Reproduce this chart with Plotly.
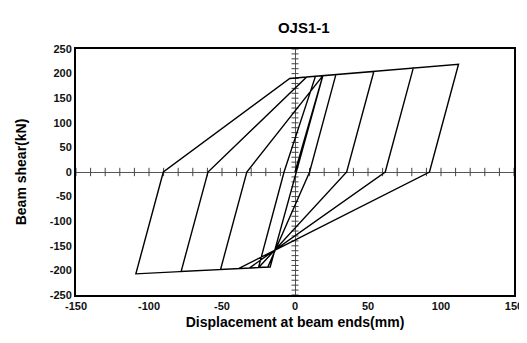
import plotly.graph_objects as go

# Hysteresis path (displacement mm, beam shear kN)
disp = [0, 19, -17, -25, -7.5, 14, 28, 10, -18.6, -25,
        -7.5, 14, 54, 35.4, -24.9, -51, -33, 19, 81, 61.8, -31.3, -78, -59.6, 8,
        112, 92.1, -38.7, -109, -90.2, -3.6, 8]
shear = [0, 195, -193, -194.2, 0, 194.4, 197.9, 0, -193.2, -194.2,
         0, 194.4, 204.4, 0, -194.2, -198.2, 0, 195.5, 211.2, 0, -195.3, -202.3, 0, 193,
         219, 0, -196.4, -207, 0, 190, 193]

x_ticks = [-150, -100, -50, 0, 50, 100, 150]
x_tick_text = ["-150", "-100", "-50", "0", "50", "100", "150"]
y_ticks = [250, 200, 150, 100, 50, 0, -50, -100, -150, -200, -250]
y_tick_text = ["250", "200", "150", "100", "50", "0", "-50", "-100", "-150", "-200", "-250"]
x_minor = [v for v in range(-150, 151, 10) if v != 0]
y_minor = [v for v in range(-250, 251, 10) if v != 0]

fig = go.Figure()
# minor ticks on the zero axes
fig.add_trace(go.Scatter(x=x_minor, y=[0] * len(x_minor), mode="markers",
                         marker=dict(symbol="line-ns-open", size=6, color="#444",
                                     line=dict(width=1, color="#444")),
                         hoverinfo="skip", showlegend=False))
fig.add_trace(go.Scatter(x=[0] * len(y_minor), y=y_minor, mode="markers",
                         marker=dict(symbol="line-ew-open", size=5, color="#444",
                                     line=dict(width=1, color="#444")),
                         hoverinfo="skip", showlegend=False))
fig.add_trace(go.Scatter(x=disp, y=shear, mode="lines",
                         line=dict(color="black", width=1.4),
                         showlegend=False))

font = "Liberation Sans, Arial, sans-serif"
fig.update_layout(
    width=527, height=343,
    margin=dict(l=68, r=21, t=41, b=56),
    paper_bgcolor="white", plot_bgcolor="white",
    font=dict(family=font, size=11, color="black"),
    title=dict(text="<b>OJS1-1</b>", x=0.52, xref="paper", xanchor="center",
               y=1 - 20 / 343, yref="container", yanchor="middle",
               font=dict(size=15, family=font, color="black")),
    xaxis=dict(range=[-150, 150], tickvals=x_ticks,
               ticktext=["<b>%s</b>" % t for t in x_tick_text],
               ticks="", showgrid=False,
               zeroline=True, zerolinecolor="#555", zerolinewidth=1.2,
               showline=True, mirror=True, linecolor="black", linewidth=2,
               tickfont=dict(size=11, color="#111"),
               title=dict(text="<b>Displacement at beam ends(mm)</b>",
                          font=dict(size=14), standoff=6)),
    yaxis=dict(range=[-250, 250], tickvals=y_ticks,
               ticktext=["<b>%s</b>" % t for t in y_tick_text],
               ticks="", showgrid=False,
               zeroline=True, zerolinecolor="#555", zerolinewidth=1.2,
               showline=True, mirror=True, linecolor="black", linewidth=2,
               tickfont=dict(size=11, color="#111"),
               title=dict(text="<b>Beam shear(kN)</b>", font=dict(size=14), standoff=20)),
)

fig.write_html("out.html")
